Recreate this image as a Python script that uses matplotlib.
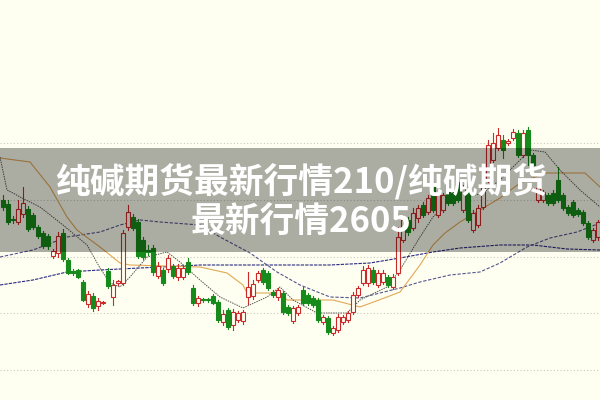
import numpy as np
import matplotlib.pyplot as plt
from matplotlib.patches import Rectangle

plt.rcParams['font.family'] = ['Noto Sans CJK SC', 'DejaVu Sans']

# candle data (price scale is arbitrary, one unit per pixel)
opens = [200, 196, 181, 178, 186, 191, 185, 173, 167, 164,
         144, 147, 167, 140, 129, 130, 118, 96, 104, 94,
         97, 129, 103, 117, 117, 173, 183, 178, 160, 150,
         152, 124, 130, 131, 134, 123, 123, 138, 112, 97,
         101, 101, 104, 98, 78, 90, 75, 80, 79, 103,
         104, 120, 130, 127, 108, 103, 107, 93, 79, 87,
         110, 105, 102, 100, 78, 82, 67, 70, 78, 80,
         88, 105, 117, 117, 130, 115, 118, 123, 113, 127,
         160, 180, 172, 182, 195, 188, 213, 185, 190, 208,
         207, 218, 190, 210, 170, 175, 193, 220, 240, 252,
         260, 257, 262, 267, 245, 270, 245, 200, 200, 205,
         207, 220, 205, 193, 198, 190, 188, 177, 160, 163]
closes = [193, 178, 180, 191, 197, 171, 173, 164, 154, 154,
          149, 164, 141, 127, 127, 123, 100, 106, 92, 99,
          98, 114, 115, 119, 167, 188, 172, 144, 143, 148,
          128, 134, 117, 142, 124, 132, 132, 128, 97, 102,
          100, 100, 97, 80, 86, 73, 88, 87, 88, 113,
          116, 127, 118, 112, 105, 110, 88, 87, 92, 93,
          97, 97, 95, 80, 83, 68, 72, 83, 83, 87,
          105, 112, 130, 132, 118, 127, 127, 115, 123, 163,
          180, 168, 187, 192, 185, 202, 190, 207, 205, 197,
          197, 200, 212, 180, 187, 192, 215, 255, 257, 265,
          250, 259, 268, 245, 267, 245, 235, 212, 208, 197,
          197, 200, 192, 187, 185, 186, 177, 163, 170, 178]
highs = [205, 200, 184, 200, 213, 194, 187, 175, 169, 166,
         151, 168, 171, 142, 131, 131, 120, 109, 107, 102,
         99, 132, 120, 120, 170, 195, 186, 181, 163, 155,
         155, 138, 132, 145, 136, 136, 135, 142, 115, 104,
         102, 102, 106, 100, 90, 92, 91, 89, 90, 128,
         120, 129, 132, 129, 110, 112, 109, 95, 94, 95,
         113, 107, 104, 102, 85, 84, 74, 86, 85, 89,
         108, 114, 134, 135, 133, 130, 130, 125, 126, 173,
         185, 183, 192, 195, 198, 205, 217, 210, 207, 210,
         210, 222, 215, 213, 190, 195, 218, 260, 267, 272,
         265, 261, 271, 270, 270, 273, 247, 215, 210, 207,
         210, 233, 207, 195, 200, 192, 190, 179, 172, 180]
lows = [190, 176, 177, 176, 183, 169, 171, 162, 152, 151,
        142, 143, 139, 126, 125, 122, 99, 93, 89, 90,
        96, 112, 95, 115, 115, 170, 170, 142, 141, 145,
        125, 122, 115, 128, 122, 120, 121, 126, 95, 94,
        98, 98, 96, 78, 75, 71, 70, 78, 76, 96,
        101, 118, 116, 110, 103, 100, 86, 85, 77, 85,
        95, 95, 93, 78, 76, 66, 65, 68, 76, 78,
        86, 103, 115, 114, 116, 113, 116, 113, 111, 125,
        158, 165, 170, 178, 183, 186, 188, 183, 188, 195,
        195, 198, 188, 178, 168, 173, 191, 218, 238, 250,
        242, 255, 260, 243, 243, 235, 232, 198, 198, 195,
        195, 198, 190, 185, 183, 184, 175, 161, 158, 160]

# moving average lines, sampled at candle positions
ma_s_idx = [-0.6, 0.8, 2, 3.4, 7.4, 12, 16.8, 19.4, 21.4, 23.4, 25.4, 28.8,
            32.8, 35.4, 39.4, 43.4, 48, 52.8, 55.4, 58, 62.8, 68.8, 71.4,
            76.8, 79.4, 83.4, 86, 88.8, 92.8, 96, 99.4, 105.4, 108.4, 111.4,
            115.4, 119.4]
ma_s = [243, 210, 207, 203, 193, 175, 155, 132, 117, 113, 123, 143,
        148, 138, 120, 103, 92, 103, 113, 100, 87, 87, 100,
        113, 130, 163, 183, 197, 203, 207, 220, 250, 248, 230,
        210, 193]

ma_t_idx = [-0.6, 5.4, 9.4, 12.8, 14.8, 19.4, 23.4, 25.4, 39.4, 44.8, 48,
            48.8, 55.4, 56.8, 66, 71.4, 76.8, 79.4, 83.4, 86, 88.4, 91.4,
            95.4, 99.4, 103.4, 108.4, 116.4, 119.4]
ma_t = [242, 238, 213, 183, 170, 153, 137, 135, 133, 127, 115,
        107, 107, 100, 100, 93, 103, 108, 135, 155, 167, 178,
        190, 202, 217, 227, 227, 213]

ma_p_idx = [-0.6, 6, 12.8, 19.4, 23.4, 27.4, 31.4, 39.4, 43.4, 49.4, 54.8,
            59.4, 65.4, 71.4, 79.4, 83.4, 89.4, 95.4, 99.4, 104.8, 109.4,
            114.8, 119.4]
ma_p = [143, 150, 163, 168, 175, 180, 178, 175, 163, 147, 128,
        115, 103, 102, 112, 118, 125, 128, 137, 153, 162,
        168, 177]

ma_n_idx = [-0.6, 6, 12.8, 19.4, 39.4, 65.4, 73.4, 79.4, 86, 91.4, 99.4,
            106, 112.8, 119.4]
ma_n = [115, 120, 128, 130, 135, 135, 137, 142, 148, 152, 155,
        155, 151, 150]

grid_levels = [257, 200, 143, 87, 30]

title_1 = '纯碱期货最新行情210/纯碱期货'
title_2 = '最新行情2605'

fig = plt.figure(figsize=(6, 4), dpi=100)
fig.patch.set_facecolor('#fefff0')
ax = fig.add_axes([0, 0, 1, 1])
ax.set_facecolor('#fefff0')

for g in grid_levels:
    ax.axhline(g, color='#c9c9c0', lw=0.8, ls=(0, (1, 2)), zorder=0)

# lines first, candles on top
ax.plot(ma_n_idx, ma_n, color='#2a2a82', lw=0.8, ls=(0, (3, 1)), zorder=1)
ax.plot(ma_p_idx, ma_p, color='#55558f', lw=0.8, ls=(0, (3, 1.5)), zorder=1)
ax.plot(ma_t_idx, ma_t, color='#e2a857', lw=0.8, zorder=1)
ax.plot(ma_s_idx, ma_s, color='#555555', lw=0.7, ls=(0, (1.5, 1)), zorder=1)

w = 0.7
for i in range(len(opens)):
    o, c, h, l = opens[i], closes[i], highs[i], lows[i]
    if c > o:
        col = '#cc2a2a'
        face = '#fefff0'
    else:
        col = '#168a1a'
        face = '#168a1a'
    ax.plot([i, i], [l, h], color=col, lw=0.8, zorder=2)
    bot = min(o, c)
    hgt = max(abs(c - o), 0.8)
    ax.add_patch(Rectangle((i - w / 2, bot), w, hgt, facecolor=face,
                           edgecolor=col, lw=0.8, zorder=3))

ax.set_xlim(-0.6, 119.4)
ax.set_ylim(0, 400)
ax.axis('off')

# the grey title banner
fig.patches.append(Rectangle((0, 0.37), 1, 0.26, transform=fig.transFigure,
                             facecolor='black', alpha=0.32, zorder=5))
fig.text(0.502, 0.5475, title_1, color='white', fontsize=25, fontweight='bold',
         ha='center', va='center', zorder=6)
fig.text(0.502, 0.445, title_2, color='white', fontsize=25, fontweight='bold',
         ha='center', va='center', zorder=6)

fig.savefig('out.png', dpi=100, facecolor=fig.get_facecolor())
